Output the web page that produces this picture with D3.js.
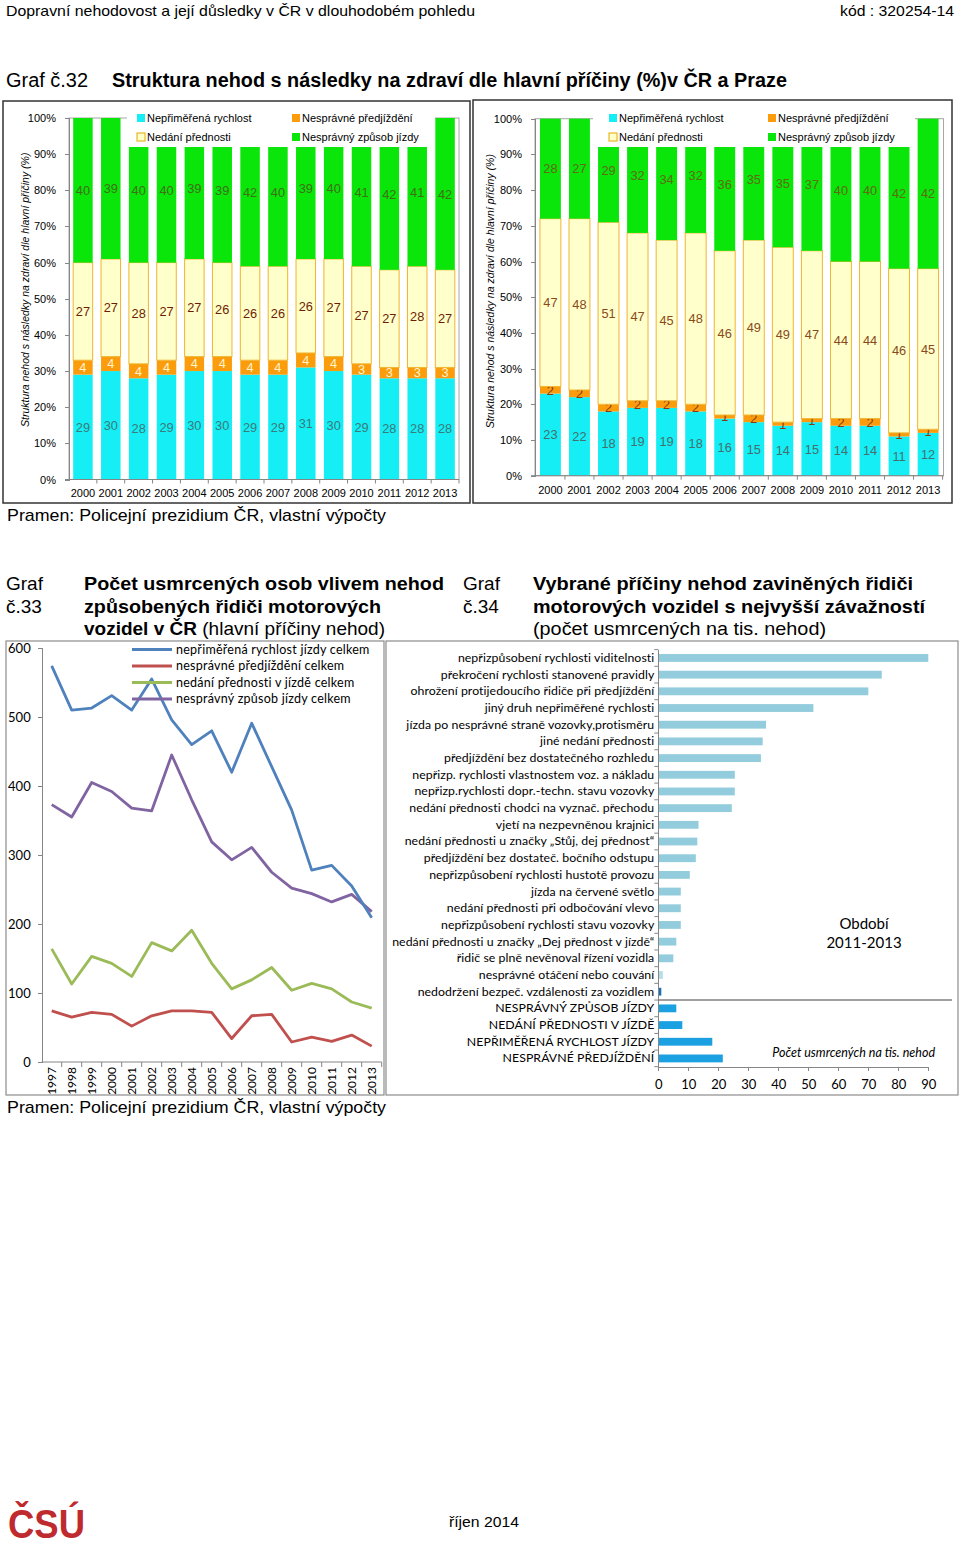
<!DOCTYPE html>
<html>
<head>
<meta charset="utf-8">
<script src="https://cdn.jsdelivr.net/npm/d3@7"></script>
<style>
  body { margin: 0; background: #fff; }
  svg { display: block; }
  text { font-family: "Liberation Sans", Arial, sans-serif; fill: #000; }
  .cal { font-family: Lato, "Open Sans", sans-serif; }
  .axis path, .axis line { stroke: #868686; shape-rendering: crispEdges; }
</style>
</head>
<body>
<svg id="page" width="960" height="1546"></svg>
<script>
// ---- data: graf 32 (struktura nehod, %) ----
var years = ["2000","2001","2002","2003","2004","2005","2006","2007","2008","2009","2010","2011","2012","2013"];
var crSpeed    = [29,30,28,29,30,30,29,29,31,30,29,28,28,28];
var crOvertake = [4,4,4,4,4,4,4,4,4,4,3,3,3,3];
var crPriority = [27,27,28,27,27,26,26,26,26,27,27,27,28,27];
var crDriving  = [40,39,40,40,39,39,42,40,39,40,41,42,41,42];
var phSpeed    = [23,22,18,19,19,18,16,15,14,15,14,14,11,12];
var phOvertake = [2,2,2,2,2,2,1,2,1,1,2,2,1,1];
var phPriority = [47,48,51,47,45,48,46,49,49,47,44,44,46,45];
var phDriving  = [28,27,29,32,34,32,36,35,35,37,40,40,42,42];
var causeNames = ["Nepřiměřená rychlost","Nesprávné předjíždění","Nedání přednosti","Nesprávný způsob  jízdy"];
var pctTicks = [0,10,20,30,40,50,60,70,80,90,100];

// ---- data: graf 33 (usmrcení) ----
var lineYears = ["1997","1998","1999","2000","2001","2002","2003","2004","2005","2006","2007","2008","2009","2010","2011","2012","2013"];
var deathSpeed    = [574,510,513,531,510,555,496,460,480,420,491,428,365,278,285,255,209];
var deathOvertake = [74,65,72,69,52,67,74,74,72,34,67,69,29,36,30,39,23];
var deathPriority = [164,113,153,143,124,173,161,191,143,106,119,137,104,114,106,87,78];
var deathDriving  = [373,355,405,392,368,364,445,380,319,293,311,275,252,244,232,243,218];
var lineNames = ["nepřiměřená rychlost jízdy celkem","nesprávné předjíždění celkem","nedání přednosti v jízdě celkem","nesprávný způsob jízdy celkem"];
var countTicks = [0,100,200,300,400,500,600];

// ---- data: graf 34 (závažnost) ----
var severityCauses = [
  "nepřizpůsobení rychlosti viditelnosti",
  "překročení rychlosti stanovené pravidly",
  "ohrožení protijedoucího řidiče při předjíždění",
  "jiný druh nepřiměřené rychlosti",
  "jízda po nesprávné straně vozovky,protisměru",
  "jiné nedání přednosti",
  "předjíždění bez dostatečného rozhledu",
  "nepřizp. rychlosti vlastnostem voz. a nákladu",
  "nepřizp.rychlosti dopr.-techn. stavu vozovky",
  "nedání přednosti chodci na vyznač. přechodu",
  "vjetí na nezpevněnou krajnici",
  "nedání přednosti u značky „Stůj, dej přednost“",
  "předjíždění bez dostateč. bočního odstupu",
  "nepřizpůsobení rychlosti hustotě provozu",
  "jízda na červené světlo",
  "nedání přednosti při odbočování vlevo",
  "nepřizpůsobení rychlosti stavu vozovky",
  "nedání přednosti u značky „Dej přednost v jízdě“",
  "řidič se plně nevěnoval řízení vozidla",
  "nesprávné otáčení nebo couvání",
  "nedodržení bezpeč. vzdálenosti za vozidlem",
  "NESPRÁVNÝ ZPŮSOB JÍZDY",
  "NEDÁNÍ PŘEDNOSTI V JÍZDĚ",
  "NEPŘIMĚŘENÁ RYCHLOST JÍZDY",
  "NESPRÁVNÉ PŘEDJÍŽDĚNÍ"
];
var severityValues = [90,74.5,70,51.7,35.9,34.8,34.2,25.5,25.5,24.5,13.4,13,12.5,10.5,7.5,7.5,7.5,6,5,1.5,1,6,8,18,21.5];
var severityTicks = [0,10,20,30,40,50,60,70,80,90];

var svg = d3.select("#page");

// ---- page texts ----
function txt(x, y, s, size, opts) {
  opts = opts || {};
  var t = svg.append("text").attr("x", x).attr("y", y)
      .style("font-size", size + "px").text(s);
  if (opts.bold) t.style("font-weight", "bold");
  if (opts.family) t.style("font-family", opts.family);
  if (opts.anchor) t.attr("text-anchor", opts.anchor);
  if (opts.len) t.attr("textLength", opts.len).attr("lengthAdjust", "spacingAndGlyphs");
  if (opts.fill) t.style("fill", opts.fill);
  if (opts.italic) t.style("font-style", "italic");
  return t;
}
var narrow = '"Liberation Sans Narrow", "Arial Narrow", "Liberation Sans", sans-serif';
txt(6, 16, "Dopravní nehodovost a její důsledky v ČR v dlouhodobém pohledu", 15, {family: narrow, len: 469});
txt(840, 16, "kód : 320254-14", 15, {family: narrow, len: 114});
txt(6, 87, "Graf č.32", 20, {family: narrow, len: 82});
txt(112, 87, "Struktura nehod s následky na zdraví dle hlavní příčiny (%)v ČR a Praze", 20, {family: narrow, bold: true, len: 675});

txt(7, 521, "Pramen: Policejní prezidium ČR, vlastní výpočty", 17, {len: 379});

txt(6, 590, "Graf", 19);
txt(6, 613, "č.33", 19);
txt(84, 590, "Počet usmrcených osob vlivem nehod", 19, {bold: true, len: 360});
txt(84, 613, "způsobených řidiči motorových", 19, {bold: true, len: 297});
var l3 = txt(84, 635, "", 19);
l3.append("tspan").style("font-weight", "bold").text("vozidel v ČR");
l3.append("tspan").text(" (hlavní příčiny nehod)");
txt(463, 590, "Graf", 19);
txt(463, 613, "č.34", 19);
txt(533, 590, "Vybrané příčiny nehod zaviněných řidiči", 19, {bold: true, len: 380});
txt(533, 613, "motorových vozidel s nejvyšší závažností", 19, {bold: true, len: 392});
txt(533, 635, "(počet usmrcených na tis. nehod)", 19, {len: 293});

txt(7, 1113, "Pramen: Policejní prezidium ČR, vlastní výpočty", 17, {len: 379});
txt(449, 1527, "říjen 2014", 15, {family: narrow, len: 70});
txt(8, 1538, "ČSÚ", 40, {family: narrow, bold: true, fill: "#bf2a2f", len: 77});

// ---- graf 32: two stacked charts ----
var stackKeys = ["speed","overtake","priority","driving"];
var stackFill = {speed: "#14eef4", overtake: "#fb9c0c", priority: "#ffffcc", driving: "#0ae60a"};

function stackChart(cfg, cols) {
  var g = svg.append("g");
  g.append("rect")
      .attr("x", cfg.box[0]).attr("y", cfg.box[1])
      .attr("width", cfg.box[2]).attr("height", cfg.box[3])
      .style("fill", "#fff").style("stroke", "#333").style("stroke-width", 1.5);

  var x = d3.scaleBand().domain(years).range([cfg.x0, cfg.x1])
      .paddingInner(cfg.pi).paddingOuter(cfg.po);
  var y = d3.scaleLinear().domain([0, 100]).range([cfg.y0, cfg.y1]);

  var rows = years.map(function(yr, i) {
    var o = {year: yr};
    stackKeys.forEach(function(k, j) { o[k] = cols[j][i]; });
    return o;
  });
  var series = d3.stack().keys(stackKeys)(rows);
  // rounded shares: the top segment always closes the bar at 100 %
  series[series.length - 1].forEach(function(d) { d[1] = 100; });

  // plot area frame
  g.append("rect")
      .attr("x", cfg.x0).attr("y", cfg.y1)
      .attr("width", cfg.x1 - cfg.x0).attr("height", cfg.y0 - cfg.y1)
      .style("fill", "none").style("stroke", "#a6a6a6");

  var layer = g.selectAll("g.layer").data(series)
    .enter().append("g").attr("class", "layer");
  layer.selectAll("rect")
      .data(function(s) { return s.map(function(d) { d.key = s.key; return d; }); })
    .enter().append("rect")
      .attr("x", function(d) { return x(d.data.year); })
      .attr("width", x.bandwidth())
      .attr("y", function(d) { return y(Math.min(d[1], 100)); })
      .attr("height", function(d) { return y(d[0]) - y(Math.min(d[1], 100)); })
      .style("fill", function(d) { return stackFill[d.key]; })
      .style("stroke", function(d) { return d.key == "priority" ? "#f0b530" : "none"; })
      .style("stroke-width", 1);

  layer.selectAll("text")
      .data(function(s) { return s; })
    .enter().append("text")
      .attr("x", function(d) { return x(d.data.year) + x.bandwidth() / 2; })
      .attr("y", function(d) { return y((d[0] + Math.min(d[1], 100)) / 2); })
      .attr("text-anchor", "middle").attr("dy", "0.36em")
      .style("font-size", "12.8px")
      .style("fill", function(d) { return cfg.labelFill[d.key]; })
      .text(function(d) { return d.data[d.key]; });

  var ya = g.append("g").attr("class", "axis")
      .attr("transform", "translate(" + cfg.x0 + ",0)")
      .call(d3.axisLeft(y).tickValues(pctTicks).tickSize(4).tickPadding(9)
        .tickFormat(function(d) { return d + "%"; }));
  ya.selectAll("text").style("font-size", "11px");

  var xa = g.append("g").attr("class", "axis")
      .attr("transform", "translate(0," + cfg.y0 + ")")
      .call(d3.axisBottom(x).tickSize(0).tickPadding(cfg.yearPad));
  xa.select(".domain").remove();
  xa.selectAll("text").style("font-size", "11px");
  g.append("line").attr("x1", cfg.x0 - 4).attr("x2", cfg.x1)
      .attr("y1", cfg.y0).attr("y2", cfg.y0).style("stroke", "#868686");
  // category separator ticks
  g.selectAll("line.sep").data(years)
    .enter().append("line").attr("class", "sep")
      .attr("x1", function(d) { return x(d) + x.bandwidth() + x.step() * x.paddingInner() / 2; })
      .attr("x2", function(d) { return x(d) + x.bandwidth() + x.step() * x.paddingInner() / 2; })
      .attr("y1", cfg.y0).attr("y2", cfg.y0 + 4).style("stroke", "#868686");

  g.append("text")
      .attr("transform", "translate(" + cfg.titleX + "," + ((cfg.y0 + cfg.y1) / 2 + cfg.titleDy) + ") rotate(-90)")
      .attr("text-anchor", "middle")
      .style("font-size", "10.5px").style("font-style", "italic")
      .text("Struktura nehod s následky na zdraví dle hlavní příčiny (%)");

  // legend box covering the top of the plot
  g.append("rect")
      .attr("x", cfg.legend[0]).attr("y", cfg.legend[1])
      .attr("width", cfg.legend[2]).attr("height", cfg.legend[3])
      .style("fill", "#fff");
  var pos = [[0, 0], [cfg.legCol, 0], [0, 19], [cfg.legCol, 19]];
  stackKeys.forEach(function(k, i) {
    var lx = cfg.legX + pos[i][0], ly = cfg.legY + pos[i][1];
    g.append("rect").attr("x", lx).attr("y", ly - 4).attr("width", 8).attr("height", 8)
        .style("fill", stackFill[k])
        .style("stroke", k == "priority" ? "#e8a800" : "none");
    g.append("text").attr("x", lx + 10).attr("y", ly).attr("dy", "0.35em")
        .style("font-size", "11px").text(causeNames[i]);
  });
}

stackChart({
  box: [3, 101, 467, 402], x0: 69, x1: 459, y0: 479.5, y1: 118, pi: 0.3, po: 0.15,
  yearPad: 10, titleX: 29, titleDy: -9,
  legend: [127, 106, 308, 41], legX: 137, legY: 118, legCol: 155,
  labelFill: {speed: "#3b7b7b", overtake: "#fff4cc", priority: "#6e1e00", driving: "#3f7015"}
}, [crSpeed, crOvertake, crPriority, crDriving]);

stackChart({
  box: [473, 100, 479, 403], x0: 535, x1: 943.5, y0: 475.7, y1: 118.7, pi: 0.28, po: 0.17,
  yearPad: 11, titleX: 494, titleDy: -6,
  legend: [593, 105, 322, 42], legX: 609, legY: 118, legCol: 159,
  labelFill: {speed: "#466e6e", overtake: "#8a3b12", priority: "#8a4a18", driving: "#5f6c10"}
}, [phSpeed, phOvertake, phPriority, phDriving]);

// ---- graf 33: line chart ----
(function() {
  var g = svg.append("g");
  g.append("rect").attr("x", 6).attr("y", 641).attr("width", 378).attr("height", 454)
      .style("fill", "#fff").style("stroke", "#8c8c8c").style("stroke-width", 1.2);
  var x = d3.scaleBand().domain(lineYears).range([41.7, 381.7]);
  var y = d3.scaleLinear().domain([0, 600]).range([1062, 648]);

  var ya = g.append("g").attr("class", "axis").attr("transform", "translate(41.7,0)")
      .call(d3.axisLeft(y).tickValues(countTicks).tickSize(4).tickPadding(7));
  ya.selectAll("text").attr("class", "cal").style("font-size", "13px");

  g.append("line").attr("x1", 41.7).attr("x2", 381.7).attr("y1", 1062).attr("y2", 1062)
      .style("stroke", "#868686");
  g.selectAll("line.sep").data(lineYears).enter().append("line").attr("class", "sep")
      .attr("x1", function(d) { return x(d) + x.bandwidth(); })
      .attr("x2", function(d) { return x(d) + x.bandwidth(); })
      .attr("y1", 1062).attr("y2", 1067).style("stroke", "#868686");
  g.selectAll("text.yr").data(lineYears).enter().append("text").attr("class", "yr cal")
      .attr("transform", function(d) { return "translate(" + (x(d) + x.bandwidth() / 2 + 4) + ",1067) rotate(-90)"; })
      .attr("text-anchor", "end").style("font-size", "12px").text(function(d) { return d; });

  var lines = [deathSpeed, deathOvertake, deathPriority, deathDriving];
  var colors = ["#4f81bd", "#c0504d", "#9bbb59", "#8064a2"];
  var line = d3.line()
      .x(function(d, i) { return x(lineYears[i]) + x.bandwidth() / 2; })
      .y(function(d) { return y(d); });
  // draw order: green, red, purple, blue on top
  [2, 1, 3, 0].forEach(function(k) {
    g.append("path").datum(lines[k]).attr("d", line)
        .style("fill", "none").style("stroke", colors[k]).style("stroke-width", 2.8)
        .style("stroke-linejoin", "round");
  });

  lineNames.forEach(function(n, i) {
    var ly = 649.5 + i * 16.5;
    g.append("line").attr("x1", 132).attr("x2", 172).attr("y1", ly).attr("y2", ly)
        .style("stroke", colors[i]).style("stroke-width", 2.8);
    g.append("text").attr("class", "cal").attr("x", 176).attr("y", ly).attr("dy", "0.35em")
        .style("font-size", "12.5px").style("letter-spacing", "0.25px").text(n);
  });
})();

// ---- graf 34: horizontal bars ----
(function() {
  var g = svg.append("g");
  g.append("rect").attr("x", 386).attr("y", 641).attr("width", 572).attr("height", 454)
      .style("fill", "#fff").style("stroke", "#8c8c8c").style("stroke-width", 1.2);
  var x = d3.scaleLinear().domain([0, 90]).range([658.3, 928.3]);
  var y = d3.scaleBand().domain(severityCauses).range([649.7, 1066.7]).paddingInner(0.53).paddingOuter(0.26);

  function barFill(d, i) {
    if (i >= 21) return "#1ba1e2";
    if (i == 20) return "#1f6db5";
    if (i == 19) return "#b7dee8";
    return "#93cddd";
  }
  g.selectAll("rect.bar").data(severityValues).enter().append("rect").attr("class", "bar")
      .attr("x", x(0)).attr("y", function(d, i) { return y(severityCauses[i]); })
      .attr("width", function(d) { return x(d) - x(0); })
      .attr("height", y.bandwidth())
      .style("fill", barFill);

  var ya = g.append("g").attr("class", "axis").attr("transform", "translate(658.3,0)")
      .call(d3.axisLeft(y).tickSize(0).tickPadding(4));
  ya.selectAll("text").attr("class", "cal").style("font-size", "12.3px").style("letter-spacing", "0.07px");
  var bounds = severityCauses.map(function(c) { return y(c) - y.step() * y.paddingInner() / 2; });
  bounds.push(1066.7);
  g.selectAll("line.sep").data(bounds).enter().append("line").attr("class", "sep")
      .attr("x1", 654.3).attr("x2", 658.3)
      .attr("y1", function(d) { return d; }).attr("y2", function(d) { return d; })
      .style("stroke", "#868686");

  var xa = g.append("g").attr("class", "axis").attr("transform", "translate(0,1066.7)")
      .call(d3.axisBottom(x).tickValues(severityTicks).tickSize(4).tickPadding(9));
  xa.selectAll("text").attr("class", "cal").style("font-size", "13px");

  // separator between detailed causes and main groups
  var sepY = y(severityCauses[21]) - y.step() * y.paddingInner() / 2;
  g.append("line").attr("x1", 658.3).attr("x2", 952).attr("y1", sepY).attr("y2", sepY)
      .style("stroke", "#7f7f7f").style("stroke-width", 1.5);

  g.append("text").attr("class", "cal").attr("x", 864).attr("y", 929)
      .attr("text-anchor", "middle").style("font-size", "15px").text("Období");
  g.append("text").attr("class", "cal").attr("x", 864).attr("y", 948)
      .attr("text-anchor", "middle").style("font-size", "15px").text("2011-2013");
  g.append("text").attr("class", "cal").attr("x", 935).attr("y", 1057)
      .attr("text-anchor", "end").style("font-size", "12.5px").style("font-style", "italic")
      .text("Počet usmrcených na tis. nehod");
})();
</script>
</body>
</html>
